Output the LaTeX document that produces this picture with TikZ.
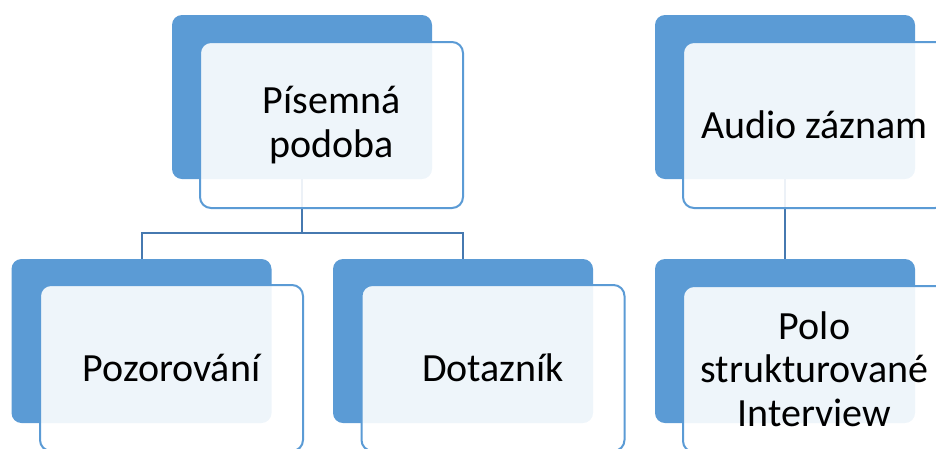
\documentclass[tikz,border=0pt]{standalone}
\usepackage{fontspec}
\setmainfont{Carlito}
\definecolor{accent}{HTML}{5B9BD5}
\definecolor{conn}{HTML}{4679B0}
\tikzset{
  darkbox/.style={fill=accent, draw=none, rounded corners=10pt, minimum width=260pt, minimum height=164pt, inner sep=0pt},
  lightbox/.style={fill=white, fill opacity=0.9, text opacity=1, draw=accent, line width=2pt, rounded corners=11pt, minimum width=263pt, minimum height=166pt, inner sep=0pt, align=center, font=\fontsize{40}{43.5}\selectfont, text=black},
  connector/.style={draw=conn, line width=2pt}
}
\begin{document}
\begin{tikzpicture}[x=1pt,y=-1pt]
\useasboundingbox (0,0) rectangle (936,448);
\clip (0,0) rectangle (936,448);
% dark boxes
\node[darkbox] (dA) at (302,97) {};
\node[darkbox] (dB) at (141.5,341) {};
\node[darkbox] (dC) at (463,341) {};
\node[darkbox] (dD) at (785,97) {};
\node[darkbox] (dE) at (785,341) {};
% connectors
\coordinate (jA) at (302,233);
\draw[connector] (dA.south) -- (jA);
\draw[connector] (jA) -| (dB.north);
\draw[connector] (jA) -| (dC.north);
\draw[connector] (dD.south) -- (dE.north);
% light boxes
\node[lightbox] (lA) at (331.5,125) {Písemná\\podoba};
\node[lightbox] (lB) at (171.5,368) {Pozorování};
\node[lightbox] (lC) at (493,368) {Dotazník};
\node[lightbox] (lD) at (814.5,125) {Audio záznam};
\node[lightbox] (lE) at (814.5,369) {Polo\\strukturované\\Interview};
\end{tikzpicture}
\end{document}
